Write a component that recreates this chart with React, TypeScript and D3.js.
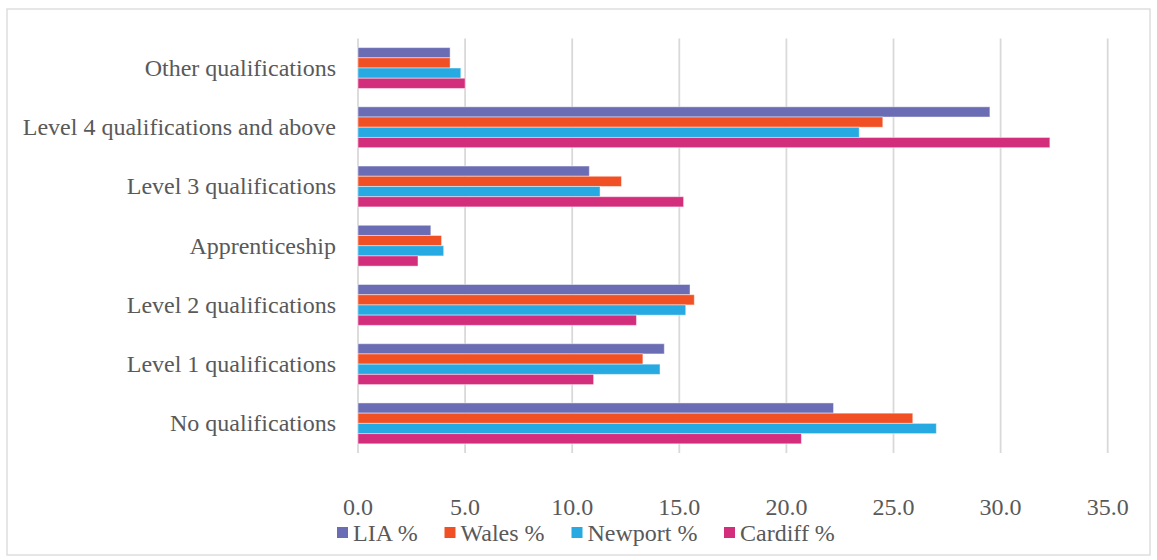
import React from "react";
import * as d3 from "d3";

const categories = [
  "Other qualifications",
  "Level 4 qualifications and above",
  "Level 3 qualifications",
  "Apprenticeship",
  "Level 2 qualifications",
  "Level 1 qualifications",
  "No qualifications",
];
const seriesNames = ["LIA %", "Wales %", "Newport %", "Cardiff %"];
const liaValues = [4.3, 29.5, 10.8, 3.4, 15.5, 14.3, 22.2];
const walesValues = [4.3, 24.5, 12.3, 3.9, 15.7, 13.3, 25.9];
const newportValues = [4.8, 23.4, 11.3, 4.0, 15.3, 14.1, 27.0];
const cardiffValues = [5.0, 32.3, 15.2, 2.8, 13.0, 11.0, 20.7];
const xTicks = [0, 5, 10, 15, 20, 25, 30, 35];
const colors = ["#6A6DB4", "#F15024", "#27A9E1", "#D32E7C"];

const seriesValues = [liaValues, walesValues, newportValues, cardiffValues];

export default function App() {
  const W = 1157;
  const H = 560;
  const x = d3.scaleLinear().domain([0, 35]).range([358, 1107.7]);
  const y = d3
    .scaleBand<string>()
    .domain(categories)
    .range([38.4, 453])
    .paddingInner(0.31)
    .paddingOuter(0.155);
  const ys = d3
    .scaleBand<string>()
    .domain(seriesNames)
    .range([0, y.bandwidth()]);
  const font = "'Liberation Serif', 'Times New Roman', serif";
  const textColor = "#595959";
  const gridColor = "#D9D9D9";
  const legendX = [337, 444.5, 571.5, 724];
  const fs = 24;

  return (
    <svg
      width={W}
      height={H}
      style={{ position: "absolute", left: 0, top: 0, background: "#fff" }}
      fontFamily={font}
    >
      <rect x={7} y={9} width={1143} height={546} fill="#fff" stroke={gridColor} strokeWidth={1.3} />
      {xTicks.map((t) => (
        <line
          key={t}
          x1={x(t)}
          x2={x(t)}
          y1={38.4}
          y2={453}
          stroke={gridColor}
          strokeWidth={1.8}
        />
      ))}
      {categories.map((c, i) => (
        <g key={c}>
          {seriesNames.map((s, j) => (
            <rect
              key={s}
              x={x(0)}
              y={(y(c) as number) + (ys(s) as number)}
              width={x(seriesValues[j][i]) - x(0)}
              height={ys.bandwidth()}
              fill={colors[j]}
              stroke="#ffffff"
              strokeOpacity={0.45}
              strokeWidth={1}
            />
          ))}
          <text
            x={336}
            y={(y(c) as number) + y.bandwidth() / 2}
            textAnchor="end"
            dominantBaseline="central"
            fontSize={fs}
            fill={textColor}
          >
            {c}
          </text>
        </g>
      ))}
      {xTicks.map((t) => (
        <text
          key={t}
          x={x(t)}
          y={507}
          textAnchor="middle"
          dominantBaseline="central"
          fontSize={fs}
          fill={textColor}
        >
          {t.toFixed(1)}
        </text>
      ))}
      {seriesNames.map((s, j) => (
        <g key={s} transform={`translate(${legendX[j]},533)`}>
          <rect x={0} y={-6} width={11} height={11} fill={colors[j]} />
          <text x={16} y={0} dominantBaseline="central" fontSize={fs} fill={textColor}>
            {s}
          </text>
        </g>
      ))}
    </svg>
  );
}
